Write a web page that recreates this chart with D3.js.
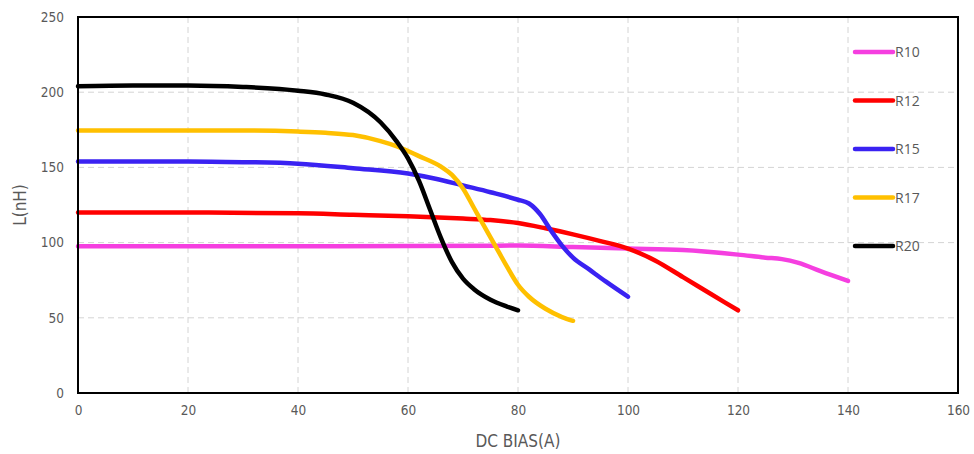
<!DOCTYPE html>
<html>
<head>
<meta charset="utf-8">
<script src="https://cdn.jsdelivr.net/npm/d3@7"></script>
<style>
  body { margin: 0; background: #fff; }
  #chart { width: 974px; height: 454px; }
</style>
</head>
<body>
<div id="chart"></div>
<script>
// series names and colours
const seriesNames = ["R10", "R12", "R15", "R17", "R20"];
const seriesColors = ["#F53FE0", "#FF0000", "#3A22F2", "#FFC000", "#000000"];

// values: [DC bias (A), L (nH)]
const r10 = [[0, 97.5], [20, 97.5], [40, 97.5], [60, 97.7], [80, 98], [90, 97], [100, 96], [110, 95], [120, 92], [125, 90], [128, 89], [131, 86.5], [135, 81], [140, 74.5]];
const r12 = [[0, 120], [20, 120], [40, 119.5], [50, 118.5], [60, 117.5], [70, 116], [75, 115], [80, 113], [85, 109.5], [90, 105.5], [95, 101], [100, 96], [105, 88], [110, 77], [115, 66], [120, 55]];
const r15 = [[0, 154], [20, 154], [30, 153.5], [40, 152.5], [50, 149.5], [60, 146], [65, 142.5], [70, 138], [75, 133.5], [80, 128.5], [82, 126], [84, 119], [86, 108], [88, 98], [90, 90], [93, 82], [96, 74], [100, 64]];
const r17 = [[0, 174.5], [20, 174.5], [30, 174.5], [40, 173.8], [45, 173], [50, 171.5], [55, 167.5], [58, 164], [62, 157.5], [66, 150.5], [68, 145], [70, 136], [72, 123], [74, 110], [76, 97], [78, 84], [80, 72], [82, 64], [85, 56], [88, 50.5], [90, 48]];
const r20 = [[0, 204], [10, 204.5], [20, 204.5], [30, 203.5], [40, 201], [45, 198.5], [50, 193], [55, 180], [58, 167], [60, 156], [62, 141], [64, 122], [66, 103], [68, 87], [70, 76], [72, 69], [75, 62], [78, 57.5], [80, 55]];

const xTicks = [0, 20, 40, 60, 80, 100, 120, 140, 160];
const yTicks = [0, 50, 100, 150, 200, 250];

const width = 974;
const height = 454;
const margin = { top: 17, right: 16, bottom: 61, left: 78 };

const svg = d3.select("#chart")
  .append("svg")
  .attr("width", width)
  .attr("height", height)
  .style("background", "white");

const innerWidth = width - margin.left - margin.right;
const innerHeight = height - margin.top - margin.bottom;

const g = svg.append("g")
  .attr("transform", `translate(${margin.left},${margin.top})`);

const x = d3.scaleLinear().domain([0, 160]).range([0, innerWidth]);
const y = d3.scaleLinear().domain([0, 250]).range([innerHeight, 0]);

const numFont = "'DejaVu Sans', sans-serif";

// dashed grid
g.append("g")
  .selectAll("line")
  .data(xTicks.slice(1))
  .join("line")
  .attr("x1", d => x(d)).attr("x2", d => x(d))
  .attr("y1", 0).attr("y2", innerHeight)
  .attr("stroke", "#d4d4d4")
  .attr("stroke-dasharray", "6,4");

g.append("g")
  .selectAll("line")
  .data(yTicks.slice(1))
  .join("line")
  .attr("x1", 0).attr("x2", innerWidth)
  .attr("y1", d => y(d)).attr("y2", d => y(d))
  .attr("stroke", "#d4d4d4")
  .attr("stroke-dasharray", "6,4");

// axes (labels only)
const xAxis = g.append("g")
  .attr("transform", `translate(0,${innerHeight})`)
  .call(d3.axisBottom(x).tickValues(xTicks).tickSize(0).tickPadding(12));
xAxis.select(".domain").remove();
xAxis.selectAll("text")
  .attr("font-family", numFont)
  .style("font-stretch", "condensed")
  .attr("font-size", "13.5px")
  .attr("fill", "#595959");

const yAxis = g.append("g")
  .call(d3.axisLeft(y).tickValues(yTicks).tickSize(0).tickPadding(14));
yAxis.select(".domain").remove();
yAxis.selectAll("text")
  .attr("font-family", numFont)
  .style("font-stretch", "condensed")
  .attr("font-size", "13.5px")
  .attr("fill", "#595959");

// curves
const line = d3.line()
  .x(d => x(d[0]))
  .y(d => y(d[1]))
  .curve(d3.curveMonotoneX);

const allSeries = [r10, r12, r15, r17, r20];
g.append("g")
  .selectAll("path")
  .data(allSeries)
  .join("path")
  .attr("d", d => line(d))
  .attr("fill", "none")
  .attr("stroke", (d, i) => seriesColors[i])
  .attr("stroke-width", 4.5)
  .attr("stroke-linecap", "round")
  .attr("stroke-linejoin", "round");

// plot frame
g.append("rect")
  .attr("width", innerWidth)
  .attr("height", innerHeight)
  .attr("fill", "none")
  .attr("stroke", "#000")
  .attr("stroke-width", 2);

// legend
const legend = svg.append("g")
  .selectAll("g")
  .data(seriesNames)
  .join("g")
  .attr("transform", (d, i) => `translate(855,${52 + i * 48.5})`);

legend.append("line")
  .attr("x1", 0).attr("x2", 38)
  .attr("stroke", (d, i) => seriesColors[i])
  .attr("stroke-width", 4.5)
  .attr("stroke-linecap", "round");

legend.append("text")
  .attr("x", 40)
  .attr("dy", "0.36em")
  .attr("font-family", "'Open Sans', sans-serif")
  .attr("font-size", "14px")
  .attr("fill", "#595959")
  .text(d => d);

// axis titles
svg.append("text")
  .attr("x", margin.left + innerWidth / 2)
  .attr("y", 447)
  .attr("text-anchor", "middle")
  .attr("font-family", numFont)
  .style("font-stretch", "condensed")
  .attr("font-size", "17px")
  .attr("fill", "#595959")
  .text("DC BIAS(A)");

svg.append("text")
  .attr("transform", `translate(26,${margin.top + innerHeight / 2}) rotate(-90)`)
  .attr("text-anchor", "middle")
  .attr("font-family", numFont)
  .style("font-stretch", "condensed")
  .attr("font-size", "17px")
  .attr("fill", "#595959")
  .text("L(nH)");
</script>
</body>
</html>
